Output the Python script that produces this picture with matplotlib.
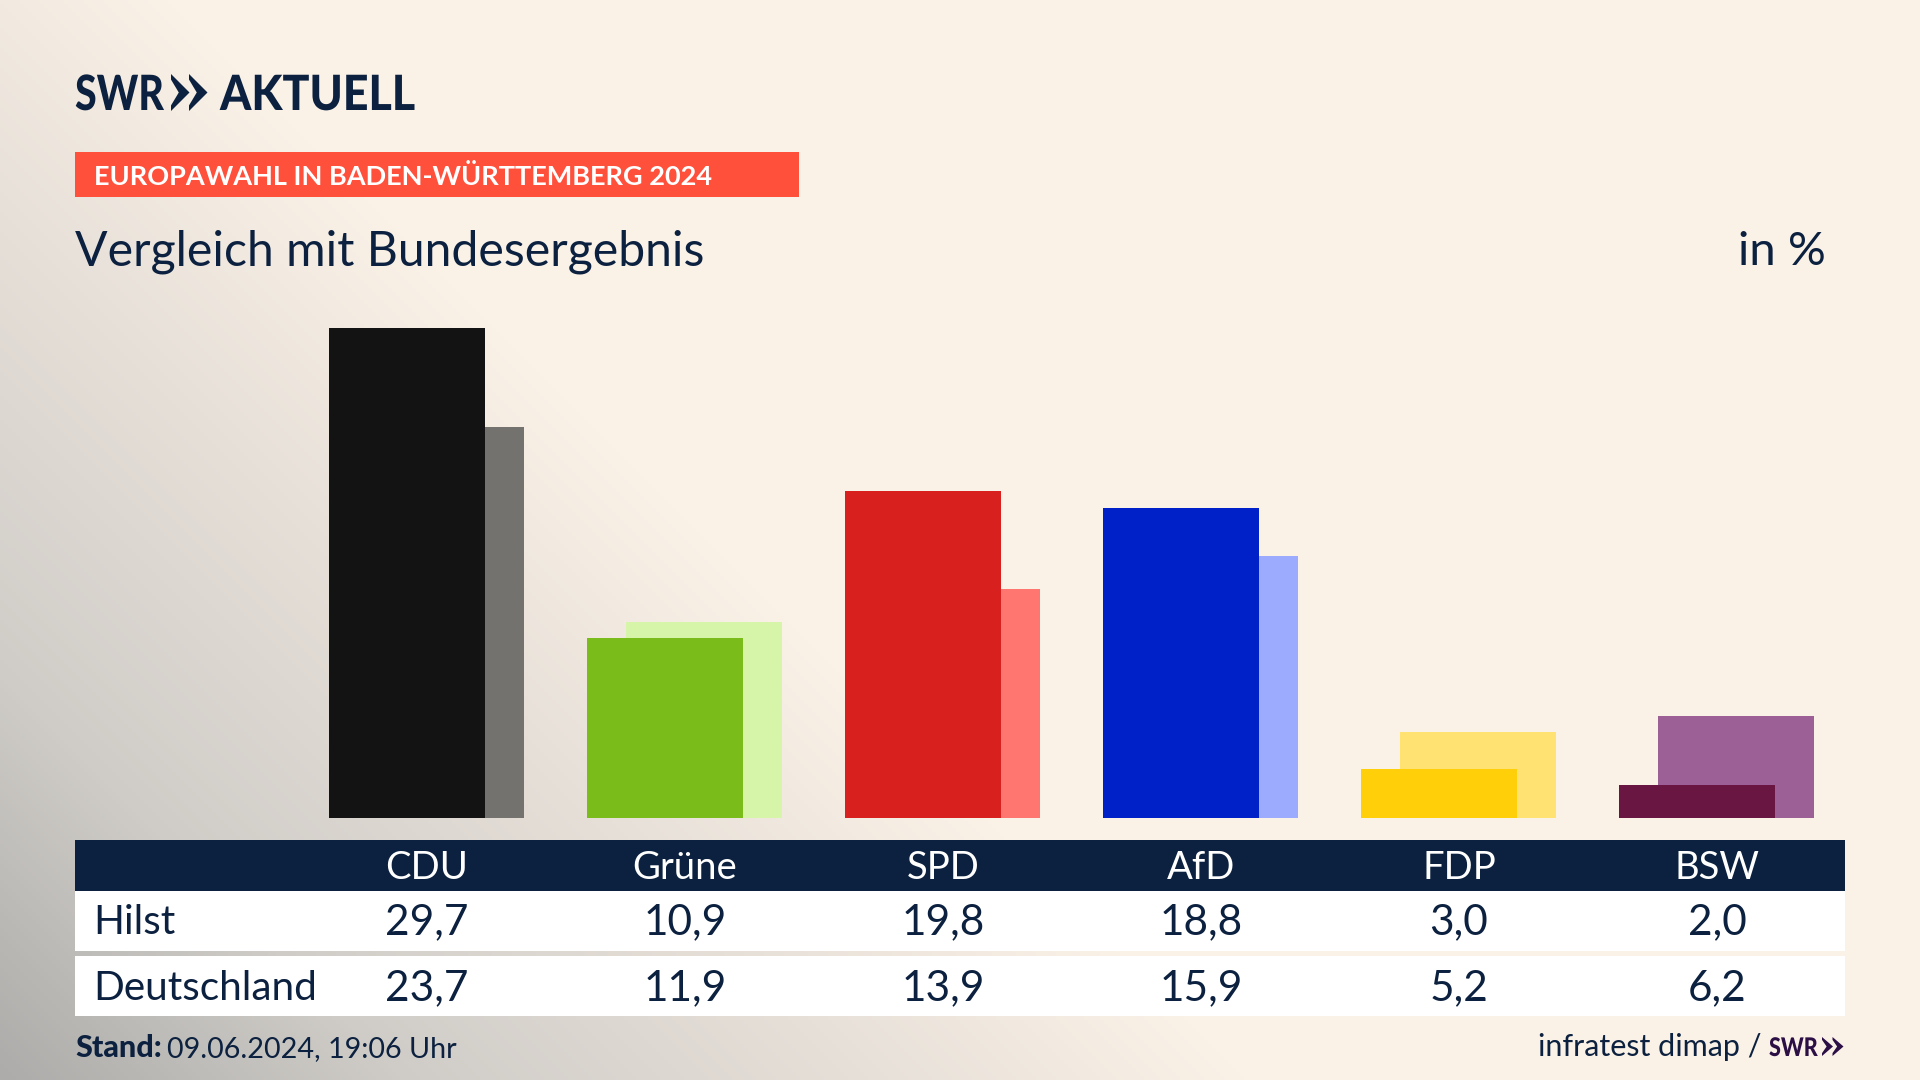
import numpy as np
import matplotlib
matplotlib.use("Agg")
import matplotlib.pyplot as plt
from matplotlib.colors import LinearSegmentedColormap
from matplotlib.patheffects import AbstractPathEffect
from matplotlib.transforms import Affine2D

parties = ["CDU", "Grüne", "SPD", "AfD", "FDP", "BSW"]
hilst = [29.7, 10.9, 19.8, 18.8, 3.0, 2.0]
deutschland = [23.7, 11.9, 13.9, 15.9, 5.2, 6.2]
colors_hilst = ["#131313", "#7abd1b", "#d8201f", "#0020c8", "#ffcf0a", "#6a1642"]
colors_bund = ["#74726f", "#d6f5a9", "#ff7570", "#9dabff", "#ffe272", "#9c5f96"]

NAVY = "#0c213f"
plt.rcParams["font.family"] = ["Lato", "DejaVu Sans"]

fig = plt.figure(figsize=(19.2, 10.8), dpi=100)

# everything but the bars is placed in pixels of the 1920x1080 picture
bg = fig.add_axes([0, 0, 1, 1])
bg.set_xlim(0, 1920)
bg.set_ylim(1080, 0)
bg.axis("off")

# background runs diagonally from the lower left corner
yy, xx = np.mgrid[0:1080:270j, 0:1920:480j]
diag = (xx + (1080 - yy)) / 1250
cmap = LinearSegmentedColormap.from_list(
    "glow", [(0, "#adacaa"), (0.32, "#cfccc7"), (0.68, "#e6dfd8"), (0.88, "#f3ebe1"), (1, "#faf2e7")])
bg.imshow(np.clip(diag, 0, 1), cmap=cmap, extent=(0, 1920, 1080, 0), aspect="auto", zorder=0)


class Squeeze(AbstractPathEffect):
    # the logo lettering is narrower than any installed font
    def __init__(self, x, sx):
        super().__init__()
        self.x = x
        self.sx = sx

    def draw_path(self, renderer, gc, tpath, affine, rgbFace=None):
        t = affine + Affine2D().translate(-self.x, 0).scale(self.sx, 1).translate(self.x, 0)
        renderer.draw_path(gc, tpath, t, rgbFace)


def chevrons(x, top, bottom, w, gap, color):
    mid = (top + bottom) / 2
    h = bottom - top
    for k in range(2):
        x0 = x + k * gap
        bg.fill([x0, x0 + w, x0, x0, x0 + 0.42 * w, x0],
                [top, mid, bottom, bottom - 0.15 * h, mid, top + 0.15 * h],
                color=color, lw=0, zorder=3)


# logo
bg.text(75, 110, "SWR", color=NAVY, fontsize=35, fontweight="black", va="baseline", zorder=3,
        path_effects=[Squeeze(75, 0.81)])
chevrons(171, 74, 111, 18.5, 18, NAVY)
bg.text(220, 110, "AKTUELL", color=NAVY, fontsize=35, fontweight="black", va="baseline", zorder=3,
        path_effects=[Squeeze(220, 0.92)])

# red label
bg.fill_between([75, 799], 152, 197, color="#ff503c", lw=0, zorder=2)
bg.text(94, 185, "EUROPAWAHL IN BADEN-WÜRTTEMBERG 2024", color="white", fontsize=19.5,
        fontweight="bold", va="baseline", zorder=3)

bg.text(75, 265, "Vergleich mit Bundesergebnis", color=NAVY, fontsize=34.7, va="baseline", zorder=3)
bg.text(1826, 265, "in %", color=NAVY, fontsize=34, ha="right", va="baseline", zorder=3)

# table
bg.fill_between([75, 1845], 840, 891, color=NAVY, lw=0, zorder=2)
bg.fill_between([75, 1845], 891, 951, color="white", lw=0, zorder=2)
bg.fill_between([75, 1845], 956, 1016, color="white", lw=0, zorder=2)
bg.text(93, 934, "Hilst", color=NAVY, fontsize=29.2, va="baseline", zorder=3)
bg.text(93, 1000, "Deutschland", color=NAVY, fontsize=29.2, va="baseline", zorder=3)

for i, party in enumerate(parties):
    cx = 427 + 258 * i
    bg.text(cx, 879, party, color="white", fontsize=27.5, ha="center", va="baseline", zorder=3)
    bg.text(cx, 934, f"{hilst[i]:.1f}".replace(".", ","), color=NAVY, fontsize=30.5,
            ha="center", va="baseline", zorder=3)
    bg.text(cx, 1000, f"{deutschland[i]:.1f}".replace(".", ","), color=NAVY, fontsize=30.5,
            ha="center", va="baseline", zorder=3)

# footer
bg.text(75, 1057, "Stand:", color=NAVY, fontsize=22, fontweight="black", va="baseline", zorder=3)
bg.text(167, 1057, "09.06.2024, 19:06 Uhr", color=NAVY, fontsize=20.7, va="baseline", zorder=3)
bg.text(1762, 1056, "infratest dimap /", color=NAVY, fontsize=22, ha="right", va="baseline", zorder=3)
bg.text(1769, 1056, "SWR", color="#2b0f45", fontsize=18.5, fontweight="black", va="baseline", zorder=3,
        path_effects=[Squeeze(1769, 0.84)])
chevrons(1822, 1037, 1056, 11, 10.5, "#2b0f45")

# bars, 258 px per party and 16.5 px per percent point
ax = fig.add_axes([297.8 / 1920, (1080 - 818) / 1080, 1548 / 1920, 518 / 1080])
ax.patch.set_alpha(0)
ax.set_xlim(-0.5, 5.5)
ax.set_ylim(0, 518 / 16.5)
ax.axis("off")
pos = np.arange(len(parties))
ax.bar(pos + 0.0756, deutschland, width=0.605, color=colors_bund, lw=0, zorder=1)
ax.bar(pos - 0.0756, hilst, width=0.605, color=colors_hilst, lw=0, zorder=2)

fig.savefig("out.png", dpi=100)
